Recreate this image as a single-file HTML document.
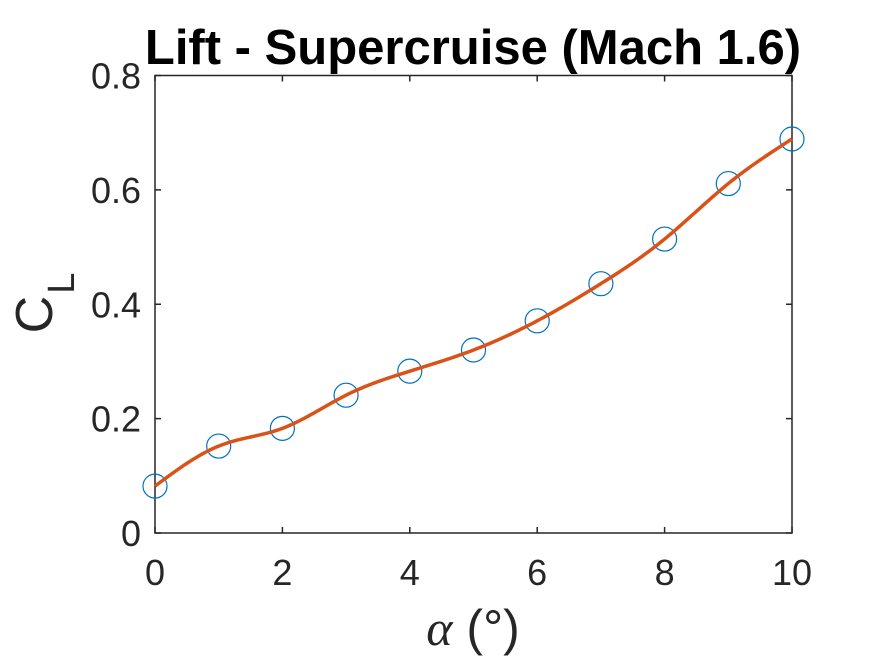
<!DOCTYPE html>
<html><head><meta charset="utf-8"><style>
html,body{margin:0;padding:0;background:#fff;width:875px;height:656px;overflow:hidden}
svg text{font-family:"Liberation Sans",sans-serif;fill:#262626}
</style></head><body>
<svg id="chart" width="875" height="656" viewBox="0 0 875 656">
<rect width="875" height="656" fill="#fff"/>
<text x="473" y="64" text-anchor="middle" font-size="49" font-weight="bold" style="fill:#000">Lift - Supercruise (Mach 1.6)</text>
<g id="grid"></g>
<rect x="155" y="75.5" width="637" height="457.5" fill="none" stroke="#262626" stroke-width="1.5"/>
<g id="marks"></g>
<text transform="translate(52,303) rotate(-90)" text-anchor="middle" font-size="52">C<tspan font-size="38" dy="22" dx="2">L</tspan></text>
<text x="473" y="645" text-anchor="middle" font-size="50"><tspan font-family="Liberation Serif" font-style="italic">α</tspan> (°)</text>
</svg>
<script>
const categories=[0,1,2,3,4,5,6,7,8,9,10];
const clValues=[0.082,0.152,0.183,0.241,0.283,0.320,0.371,0.436,0.514,0.611,0.689];
const xTicks=[0,2,4,6,8,10];
const yTicks=[0,0.2,0.4,0.6,0.8];
const yTickLabels=["0","0.2","0.4","0.6","0.8"];
const NS="http://www.w3.org/2000/svg";
const X0=155,X1=792,Y0=533,Y1=75.5;
function xs(v){return X0+(v-0)/(10-0)*(X1-X0);}
function ys(v){return Y0-(v-0)/(0.8-0)*(Y0-Y1);}
function mk(t,a,p){const e=document.createElementNS(NS,t);for(const k in a)e.setAttribute(k,a[k]);(p||document.getElementById('marks')).appendChild(e);return e;}
const grid=document.getElementById('grid');
xTicks.forEach(v=>{
  const l=mk('line',{x1:xs(v),x2:xs(v),y1:Y0,y2:Y0-6,stroke:'#262626','stroke-width':1.5},grid);
  
  
  const l2=mk('line',{x1:xs(v),x2:xs(v),y1:Y1,y2:Y1+6,stroke:'#262626','stroke-width':1.5},grid);
  
  
  const t=mk('text',{x:xs(v),y:585,'text-anchor':'middle','font-size':36},grid);
  t.textContent=String(v);
  
  
});
yTicks.forEach((v,i)=>{
  const l=mk('line',{x1:X0,x2:X0+6,y1:ys(v),y2:ys(v),stroke:'#262626','stroke-width':1.5},grid);
  
  
  const l2=mk('line',{x1:X1,x2:X1-6,y1:ys(v),y2:ys(v),stroke:'#262626','stroke-width':1.5},grid);
  
  
  const t=mk('text',{x:141,y:ys(v)+13,'text-anchor':'end','font-size':36},grid);
  t.textContent=yTickLabels[i];
  
  
});
const n=categories.length,h=[],al=[],l=[1],mu=[0],z=[0],c=new Array(n).fill(0),b=[],d=[];
for(let i=0;i<n-1;i++)h[i]=categories[i+1]-categories[i];
for(let i=1;i<n-1;i++)al[i]=3/h[i]*(clValues[i+1]-clValues[i])-3/h[i-1]*(clValues[i]-clValues[i-1]);
for(let i=1;i<n-1;i++){l[i]=2*(categories[i+1]-categories[i-1])-h[i-1]*mu[i-1];mu[i]=h[i]/l[i];z[i]=(al[i]-h[i-1]*z[i-1])/l[i];}
for(let j=n-2;j>=0;j--){c[j]=z[j]-mu[j]*c[j+1];b[j]=(clValues[j+1]-clValues[j])/h[j]-h[j]*(c[j+1]+2*c[j])/3;d[j]=(c[j+1]-c[j])/(3*h[j]);}
let pd='';
for(let j=0;j<n-1;j++){for(let k=0;k<=20;k++){const t=k/20*h[j];const v=clValues[j]+b[j]*t+c[j]*t*t+d[j]*t*t*t;pd+=(pd?'L':'M')+xs(categories[j]+t).toFixed(2)+','+ys(v).toFixed(2);}}
categories.forEach((x,i)=>{
  const m=mk('circle',{cx:xs(x),cy:ys(clValues[i]),r:12,fill:'none',stroke:'#0072BD','stroke-width':1.2});
  
  
});
const p=mk('path',{d:pd,fill:'none',stroke:'#D95319','stroke-width':3.5});


</script>
</body></html>
